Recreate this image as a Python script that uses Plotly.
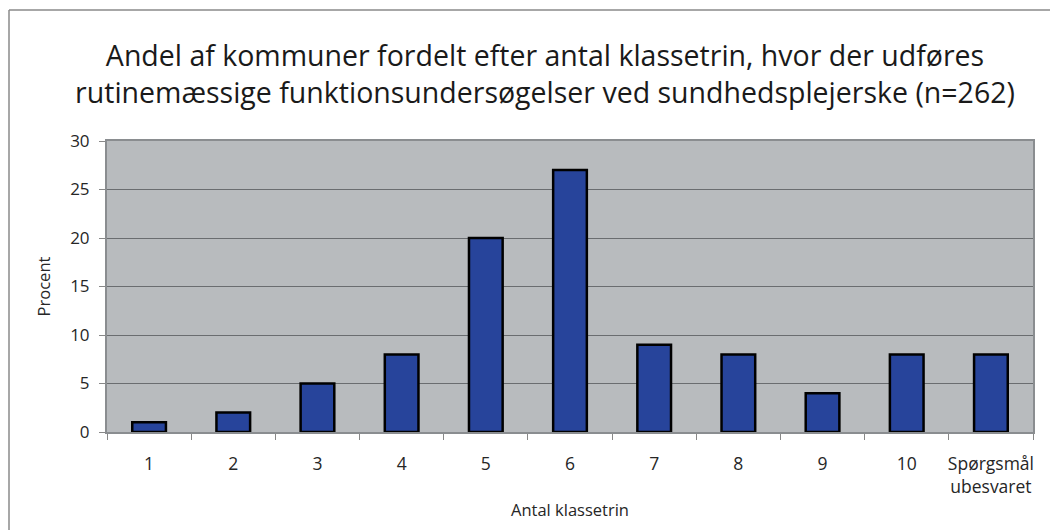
import plotly.graph_objects as go

categories = ["1", "2", "3", "4", "5", "6", "7", "8", "9", "10", "Spørgsmål<br>ubesvaret"]
values = [1, 2, 5, 8, 20, 27, 9, 8, 4, 8, 8]
y_ticks = [0, 5, 10, 15, 20, 25, 30]

title_text = ("Andel af kommuner fordelt efter antal klassetrin, hvor der udføres<br>"
              "rutinemæssige funktionsundersøgelser ved sundhedsplejerske (n=262)")

# page is offset by 8px body margin
W, H = 1050, 522
L, R, T, B = 99, 25, 133, 98
pw, ph = W - L - R, H - T - B

fig = go.Figure(go.Bar(
    x=categories, y=values,
    marker=dict(color="#27449b", line=dict(color="#000000", width=2.5)),
    width=0.4,
))

font = "'Open Sans', sans-serif"
fig.update_layout(
    width=W, height=H,
    margin=dict(l=L, r=R, t=T, b=B, autoexpand=False),
    paper_bgcolor="white",
    plot_bgcolor="#b8bbbe",
    font=dict(family=font, color="#262626", size=16),
    showlegend=False,
    title=dict(text=title_text, x=(545 - 8) / W, xanchor="center", y=1 - 58 / H, yanchor="middle",
               font=dict(size=28.5, family=font, color="#1a1a1a")),
    xaxis=dict(
        type="category", tickson="boundaries", ticks="outside", ticklen=6,
        tickcolor="#888888", showline=True, linecolor="#8a8d90", linewidth=2, mirror=True,
        showgrid=False, tickfont=dict(size=17.5), tickangle=0, automargin=False,
        ticklabelstandoff=15,
        title=dict(text="Antal klassetrin", font=dict(size=16.5), standoff=8),
    ),
    yaxis=dict(
        range=[0, 30], tickvals=y_ticks, ticks="outside", ticklen=6, tickcolor="#888888",
        showline=True, linecolor="#8a8d90", linewidth=2, mirror=True,
        showgrid=True, gridcolor="#6a6d70", gridwidth=1, zeroline=False,
        tickfont=dict(size=17), automargin=False, ticklabelstandoff=6,
        title=dict(text="Procent", font=dict(size=16.5), standoff=15),
    ),
)

x0 = (1 - L) / pw
y0 = (H - B - 2) / ph
fig.add_shape(type="line", xref="paper", yref="paper", x0=x0, x1=x0, y0=y0, y1=-1,
              line=dict(color="#8a8a8a", width=1.5))
fig.add_shape(type="line", xref="paper", yref="paper", x0=x0, x1=(W - L) / pw + 0.1, y0=y0, y1=y0,
              line=dict(color="#8a8a8a", width=1.5))

fig.write_html("out.html")
